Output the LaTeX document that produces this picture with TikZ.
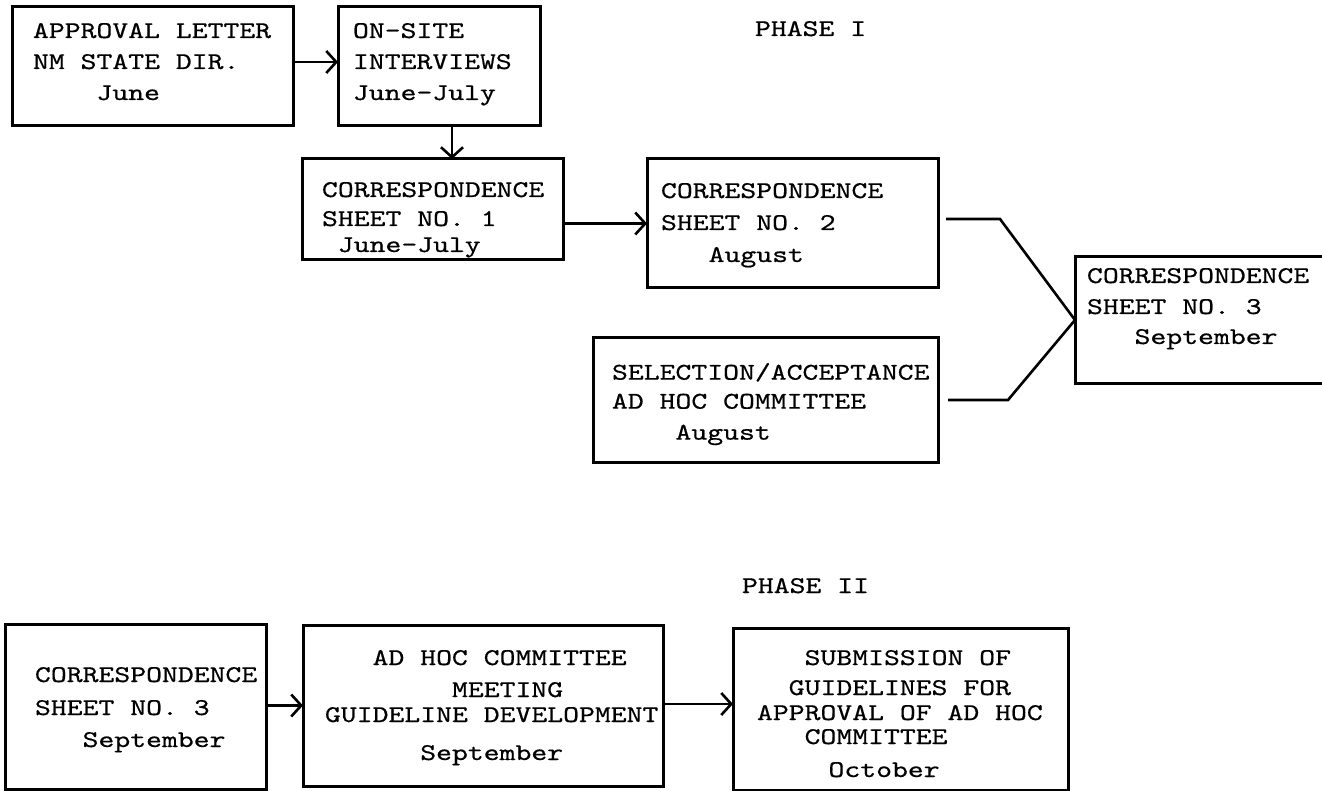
\documentclass[tikz,border=0pt]{standalone}
\usepackage{fontspec}
\newfontfamily\tw{lmmono10-regular}[Extension=.otf,FakeStretch=1.26,FakeBold=0.6]
\usetikzlibrary{arrows.meta,calc}
\begin{document}
\begin{tikzpicture}[x=1pt,y=-1pt,
  box/.style={draw,line width=3pt,anchor=north west,inner sep=0pt,outer sep=0pt},
  txt/.style={anchor=north west,inner sep=0pt,outer sep=0pt,align=left,
    font=\tw\fontsize{24pt}{31pt}\selectfont},
  conn/.style={line width=2.6pt},
  arr/.style={line width=2.6pt,-{Straight Barb[length=10pt,width=22pt,line width=2.6pt]}}]
\fill[white] (0,0) rectangle (1322,791);
\useasboundingbox (0,0) rectangle (1322,791);
% ---------- boxes (phase I)
\node[box,minimum width=281pt,minimum height=119pt] (A) at (12,7) {};
\node[box,minimum width=202pt,minimum height=119pt] (B) at (338,7) {};
\node[box,minimum width=261pt,minimum height=101pt] (C) at (302,159) {};
\node[box,minimum width=291pt,minimum height=129pt] (D) at (647,159) {};
\node[box,minimum width=345pt,minimum height=124pt] (E) at (593,338) {};
\node[box,minimum width=265pt,minimum height=126pt] (F) at (1075,257) {};
% ---------- boxes (phase II)
\node[box,minimum width=261pt,minimum height=165pt] (G) at (5,624) {};
\node[box,minimum width=360pt,minimum height=161pt] (H) at (303,625) {};
\node[box,minimum width=335pt,minimum height=162pt] (I) at (733,628) {};
% ---------- texts
\node[txt] (At) at (33,23) {\rule{0pt}{15pt}APPROVAL LETTER\\NM STATE DIR.\\\hphantom{XXXX}June};
\node[txt] (Bt) at (353,23) {\rule{0pt}{15pt}ON-SITE\\INTERVIEWS\\June-July};
\node[txt] (Ct) at (322,182) {\rule{0pt}{15pt}CORRESPONDENCE\\[-2pt]SHEET NO. 1\\[-5pt]\hphantom{X}June-July};
\node[txt] (Dt) at (661,183) {\rule{0pt}{15pt}CORRESPONDENCE\\[1pt]SHEET NO. 2\\[1pt]\hphantom{XXX}August};
\node[txt] (Et) at (612,363) {\rule{0pt}{15pt}SELECTION/ACCEPTANCE\\[-2pt]AD HOC COMMITTEE\\\hphantom{XXXX}August};
\node[txt] (Ft) at (1087,268) {\rule{0pt}{15pt}CORRESPONDENCE\\SHEET NO. 3\\[-1pt]\hphantom{XXX}September};
\node[txt] (Gt) at (35,667) {\rule{0pt}{15pt}CORRESPONDENCE\\[2pt]SHEET NO. 3\\[1pt]\hphantom{XXX}September};
\node[txt] (Ht) at (325,650) {\rule{0pt}{15pt}\hphantom{XXX}AD HOC COMMITTEE\\[1pt]\hphantom{XXXXXXXX}MEETING\\[-6pt]GUIDELINE DEVELOPMENT\\[7pt]\hphantom{XXXXXX}September};
\node[txt] (It) at (757,650) {\rule{0pt}{15pt}\hphantom{XXX}SUBMISSION OF\\[-1pt]\hphantom{XX}GUIDELINES FOR\\[-6pt]APPROVAL OF AD HOC\\[-7pt]\hphantom{XXX}COMMITTEE\\[2pt]\hphantom{XXXX}\kern8pt October};
\node[txt] (P1) at (755,21) {\rule{0pt}{15pt}PHASE I};
\node[txt] (P2) at (742,578) {\rule{0pt}{15pt}PHASE II};
% ---------- connectors
\coordinate (bc) at (452,0);
\draw[arr] (A.east |- 0,62) -- (B.west |- 0,62);
\draw[arr] (B.south -| bc) -- (C.north -| bc);
\draw[arr] (C.east |- D.west) -- (D.west);
\coordinate (d1) at ($(D.east |- 0,219)+(8,0)$);
\coordinate (dk) at (1000,219);
\coordinate (e1) at ($(E.east |- 0,400)+(10,0)$);
\coordinate (ek) at (1008,400);
\draw[conn] (d1) -- (dk) -- (F.west);
\draw[conn] (e1) -- (ek) -- (F.west);
\draw[arr] (G.east |- H.west) -- (H.west);
\draw[arr] (H.east |- 0,704) -- (I.west |- 0,704);
\end{tikzpicture}
\end{document}
